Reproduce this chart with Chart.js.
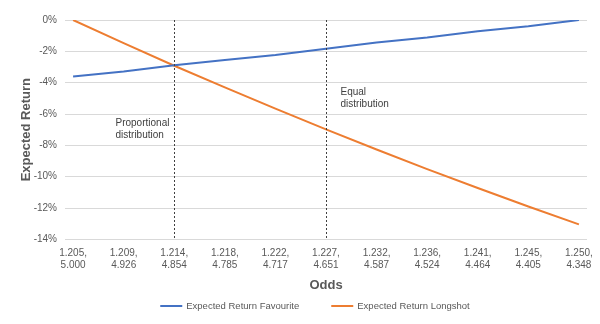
<!DOCTYPE html>
<html>
<head>
<meta charset="utf-8">
<script src="https://cdn.jsdelivr.net/npm/chart.js@4.4.1/dist/chart.umd.min.js"></script>
<style>
  html, body { margin: 0; padding: 0; background: #fff; }
  #wrap { width: 600px; height: 324px; }
</style>
</head>
<body>
<div id="wrap"><canvas id="graph"></canvas></div>
<script>
const favOdds = ['1.205', '1.209', '1.214', '1.218', '1.222', '1.227', '1.232', '1.236', '1.241', '1.245', '1.250'];
const longOdds = ['5.000', '4.926', '4.854', '4.785', '4.717', '4.651', '4.587', '4.524', '4.464', '4.405', '4.348'];
const favReturn = [-3.6, -3.28, -2.88, -2.56, -2.24, -1.84, -1.44, -1.12, -0.72, -0.4, 0.0];
const longReturn = [0.0, -1.48, -2.92, -4.3, -5.66, -6.98, -8.26, -9.52, -10.72, -11.9, -13.04];
const markers = [
    { at: 2, text: ['Proportional', 'distribution'], side: 'left', y: -6.6 },
    { at: 5, text: ['Equal', 'distribution'], side: 'right', y: -4.6 }
];

const grey = '#595959';
const fontFam = '"Liberation Sans", Arial, sans-serif';

// dotted vertical lines + their notes
const markerPlugin = {
    id: 'markers',
    afterDatasetsDraw(chart) {
        const { ctx, chartArea, scales } = chart;
        ctx.save();
        markers.forEach(m => {
            const x = Math.round(scales.x.getPixelForValue(m.at)) + 0.5;
            ctx.strokeStyle = '#404040';
            ctx.lineWidth = 1;
            ctx.setLineDash([2, 2]);
            ctx.beginPath();
            ctx.moveTo(x, chartArea.top);
            ctx.lineTo(x, chartArea.bottom);
            ctx.stroke();
            ctx.setLineDash([]);
            ctx.fillStyle = '#404040';
            ctx.font = '10px ' + fontFam;
            ctx.textBaseline = 'middle';
            ctx.textAlign = 'left';
            const y = scales.y.getPixelForValue(m.y);
            let tx = m.side === 'left' ? x - 59 : x + 14;
            m.text.forEach((t, i) => ctx.fillText(t, tx, y + i * 12));
        });
        ctx.restore();
    }
};

// legend drawn by hand so spacing can match the original
const legendPlugin = {
    id: 'bottomLegend',
    afterDraw(chart) {
        const { ctx, width, height } = chart;
        const sets = chart.data.datasets;
        ctx.save();
        ctx.font = '9.5px ' + fontFam;
        ctx.textBaseline = 'middle';
        ctx.textAlign = 'left';
        const widths = sets.map(d => 22 + 4 + ctx.measureText(d.label).width);
        const gap = 32;
        const total = widths.reduce((a, b) => a + b, 0) + gap * (sets.length - 1);
        let x = width / 2 + 15 - total / 2;
        const y = height - 18;
        sets.forEach((d, i) => {
            ctx.strokeStyle = d.borderColor;
            ctx.lineWidth = 2;
            ctx.beginPath();
            ctx.moveTo(x, y);
            ctx.lineTo(x + 22, y);
            ctx.stroke();
            ctx.fillStyle = grey;
            ctx.fillText(d.label, x + 26, y);
            x += widths[i] + gap;
        });
        ctx.restore();
    }
};

const ctx = document.getElementById('graph').getContext('2d');
const chart = new Chart(ctx, {
    type: 'line',
    data: {
        datasets: [{
            label: 'Expected Return Favourite',
            data: favReturn.map((v, i) => ({ x: i, y: v })),
            borderColor: '#4472c4',
            backgroundColor: '#4472c4',
            borderWidth: 2,
            pointRadius: 0,
            tension: 0
        }, {
            label: 'Expected Return Longshot',
            data: longReturn.map((v, i) => ({ x: i, y: v })),
            borderColor: '#ed7d31',
            backgroundColor: '#ed7d31',
            borderWidth: 2,
            pointRadius: 0,
            tension: 0
        }]
    },
    options: {
        responsive: true,
        maintainAspectRatio: false,
        animation: false,
        layout: { padding: { top: 20, right: 13, left: 19, bottom: 31 } },
        scales: {
            x: {
                type: 'linear',
                min: -0.16,
                max: 10.16,
                afterBuildTicks: s => { s.ticks = favOdds.map((_, i) => ({ value: i })); },
                ticks: {
                    autoSkip: false,
                    maxRotation: 0,
                    padding: 0,
                    color: grey,
                    font: { family: fontFam, size: 10 },
                    callback: v => [favOdds[v] + ',', longOdds[v]]
                },
                grid: { display: false },
                border: { display: false },
                title: {
                    display: true,
                    text: 'Odds',
                    color: grey,
                    font: { family: fontFam, size: 13, weight: 'bold' },
                    padding: { top: 6, bottom: 0 }
                }
            },
            y: {
                min: -14,
                max: 0,
                afterFit: s => { s.width = 46; },
                ticks: {
                    stepSize: 2,
                    padding: 8,
                    color: grey,
                    font: { family: fontFam, size: 10 },
                    callback: v => v + '%'
                },
                grid: { color: '#d9d9d9', drawTicks: false },
                border: { display: false },
                title: {
                    display: true,
                    text: 'Expected Return',
                    color: grey,
                    font: { family: fontFam, size: 13, weight: 'bold' },
                    padding: { top: 0, bottom: 4 }
                }
            }
        },
        plugins: {
            legend: { display: false },
            tooltip: { enabled: false }
        }
    },
    plugins: [markerPlugin, legendPlugin]
});
</script>
</body>
</html>
